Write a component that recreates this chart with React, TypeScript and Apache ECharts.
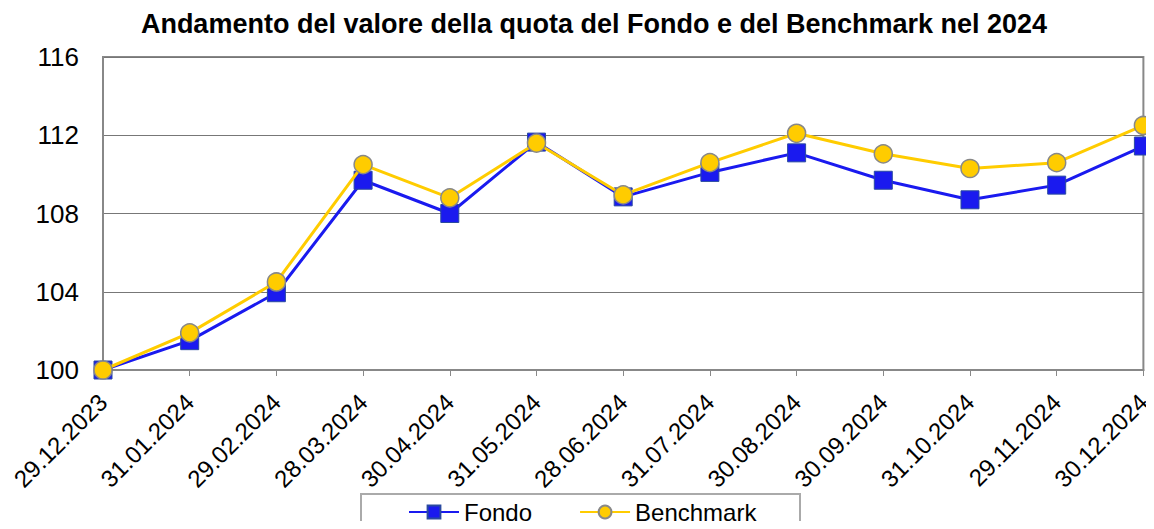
import React, { useEffect, useRef } from "react";
import * as echarts from "echarts";

const categories = [
  "29.12.2023", "31.01.2024", "29.02.2024", "28.03.2024", "30.04.2024", "31.05.2024",
  "28.06.2024", "31.07.2024", "30.08.2024", "30.09.2024", "31.10.2024", "29.11.2024", "30.12.2024",
];
const fondo = [100, 101.5, 103.95, 109.7, 108.0, 111.65, 108.85, 110.1, 111.1, 109.7, 108.7, 109.45, 111.45];
const benchmark = [100, 101.9, 104.5, 110.5, 108.8, 111.6, 108.95, 110.6, 112.1, 111.05, 110.3, 110.6, 112.5];
const title = "Andamento del valore della quota del Fondo e del Benchmark nel 2024";

export default function App() {
  const ref = useRef<HTMLDivElement>(null);
  useEffect(() => {
    if (!ref.current) return;
    const chart = echarts.init(ref.current, undefined, { renderer: "svg" });
    const font = "'Liberation Sans', Arial, sans-serif";
    chart.setOption({
      animation: false,
      textStyle: { fontFamily: font },
      title: {
        text: title,
        left: 589,
        textAlign: "center",
        top: 5,
        textStyle: { fontFamily: font, fontSize: 27, fontWeight: "bold", color: "#000" },
      },
      grid: { left: 103, right: 10, top: 57, bottom: 159, containLabel: false, show: true, borderColor: "#888", borderWidth: 2, backgroundColor: "#fff" },
      xAxis: {
        type: "category",
        data: categories,
        boundaryGap: false,
        axisLine: { lineStyle: { color: "#888", width: 2 } },
        axisTick: { show: true, length: 6, lineStyle: { color: "#888", width: 1 }, alignWithLabel: true },
        axisLabel: { rotate: 45, fontSize: 24, color: "#000", fontFamily: font, margin: 28, interval: 0 },
        splitLine: { show: false },
      },
      yAxis: {
        type: "value",
        min: 100,
        max: 116,
        interval: 4,
        axisLine: { show: true, lineStyle: { color: "#888", width: 2 } },
        axisTick: { show: false },
        axisLabel: { fontSize: 26, color: "#000", fontFamily: font, margin: 24 },
        splitLine: { lineStyle: { color: "#777", width: 1 } },
      },
      legend: {
        left: 408,
        top: 500,
        padding: 0,
        itemWidth: 50,
        itemHeight: 16,
        itemGap: 47,
        textStyle: { fontSize: 24, color: "#000", fontFamily: font },
        data: ["Fondo", "Benchmark"],
      },
      graphic: [
        {
          type: "rect",
          shape: { x: 361, y: 494, width: 439, height: 60 },
          style: { fill: "none", stroke: "#aaa", lineWidth: 2 },
          z: -1,
        },
      ],
      series: [
        {
          name: "Fondo",
          type: "line",
          data: fondo,
          symbol: "rect",
          symbolSize: 18,
          lineStyle: { color: "#1a1aef", width: 3 },
          itemStyle: { color: "#1a1aef", borderColor: "#2a4aa0", borderWidth: 1 },
          z: 2,
        },
        {
          name: "Benchmark",
          type: "line",
          data: benchmark,
          symbol: "circle",
          symbolSize: 18,
          lineStyle: { color: "#ffcc00", width: 3 },
          itemStyle: { color: "#ffcc00", borderColor: "#888", borderWidth: 1.5 },
          z: 3,
        },
      ],
    });
    return () => chart.dispose();
  }, []);
  return <div ref={ref} style={{ width: 1154, height: 529, margin: -8 }} />;
}
